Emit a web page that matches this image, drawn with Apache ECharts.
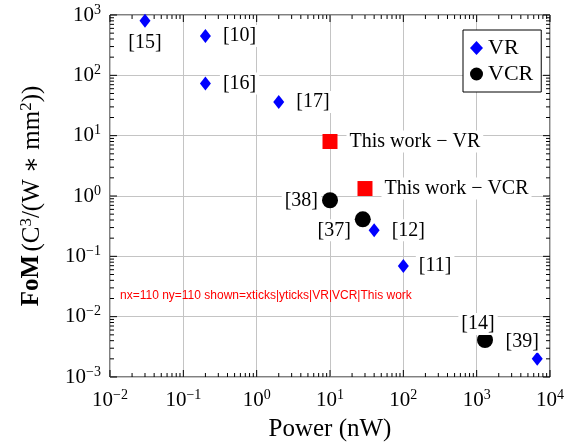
<!DOCTYPE html>
<html>
<head>
<meta charset="utf-8">
<script src="https://cdn.jsdelivr.net/npm/echarts@6/dist/echarts.min.js"></script>
<style>
  html, body { margin: 0; padding: 0; background: #fff; }
  #main { width: 580px; height: 447px; }
</style>
</head>
<body>
<div id="main"></div>
<script>
var vrPower = [0.03, 0.2, 0.2, 2, 40, 100, 6700];
var vrFom = [800, 450, 73, 36, 0.27, 0.069, 0.002];
var vrRefs = ['[15]', '[10]', '[16]', '[17]', '[12]', '[11]', '[39]'];
var vcrPower = [10, 28, 1300];
var vcrFom = [0.85, 0.41, 0.0041];
var vcrRefs = ['[38]', '[37]', '[14]'];
var ourPower = [10, 30];
var ourFom = [8, 1.33];
var ourNames = ['This work \u2212 VR', 'This work \u2212 VCR'];
var xExps = [-2, -1, 0, 1, 2, 3, 4];
var yExps = [-3, -2, -1, 0, 1, 2, 3];
var minorSteps = [2, 3, 4, 5, 6, 7, 8, 9];
var X_MIN = 0.01, X_MAX = 10000, Y_MIN = 0.001, Y_MAX = 1000;
var FONT = '"Liberation Serif", "DejaVu Serif", serif';
var labelPlace = {
  '[15]': { position: 'bottom', distance: 4 },
  '[10]': { position: 'right', distance: 9 },
  '[16]': { position: 'right', distance: 9 },
  '[17]': { position: 'right', distance: 9 },
  '[12]': { position: 'right', distance: 9 },
  '[11]': { position: 'right', distance: 7 },
  '[39]': { position: 'top', distance: -1, offset: [-15, 0] },
  '[38]': { position: 'left', distance: 1 },
  '[37]': { position: 'left', distance: 1, offset: [0, 11] },
  '[14]': { position: 'top', distance: -3, offset: [-7, 0] }
};
function pts(xs, ys, names) {
  return xs.map(function (x, i) {
    var item = { value: [x, ys[i]], name: names[i] };
    if (labelPlace[names[i]]) item.label = labelPlace[names[i]];
    return item;
  });
}
function supLabel(v) {
  var e = Math.round(Math.log10(v));
  return '{b|10}{s|' + (e < 0 ? '\u2212' + (-e) : e) + '}';
}
var tickRich = {
  b: { fontFamily: FONT, fontSize: 21, lineHeight: 24, color: '#000' },
  s: { fontFamily: FONT, fontSize: 14, lineHeight: 18, verticalAlign: 'top', color: '#000' }
};
var xTicks = [], yTicks = [];
xExps.forEach(function (e, i) {
  var d = Math.pow(10, e);
  xTicks.push([d, 1, 0, 1], [d, 1, 1, 1]);
  if (i < xExps.length - 1) minorSteps.forEach(function (m) { xTicks.push([m * d, 1, 0, 0], [m * d, 1, 1, 0]); });
});
yExps.forEach(function (e, i) {
  var d = Math.pow(10, e);
  yTicks.push([1, d, 0, 1], [1, d, 1, 1]);
  if (i < yExps.length - 1) minorSteps.forEach(function (m) { yTicks.push([1, m * d, 0, 0], [1, m * d, 1, 0]); });
});
var dbg = { nx: 0, ny: 0, err: '' };
function renderXTick(params, api) {
  dbg.nx++;
  var v = api.value(0), top = api.value(2), len = api.value(3) ? 7 : 4;
  var p = api.coord([v, top ? Y_MAX : Y_MIN]);
  var dy = top ? len : -len;
  return { type: 'line', shape: { x1: p[0], y1: p[1], x2: p[0], y2: p[1] + dy }, style: { stroke: '#000', lineWidth: 1 } };
}
function renderYTick(params, api) {
  dbg.ny++;
  var v = api.value(1), right = api.value(2), len = api.value(3) ? 7 : 4;
  var p = api.coord([right ? X_MAX : X_MIN, v]);
  var dx = right ? -len : len;
  return { type: 'line', shape: { x1: p[0], y1: p[1], x2: p[0] + dx, y2: p[1] }, style: { stroke: '#000', lineWidth: 1 } };
}
var dataLabel = {
  show: true, formatter: '{b}', fontFamily: FONT, fontSize: 20, color: '#000',
  backgroundColor: '#fff', padding: [1, 3]
};
var chart = echarts.init(document.getElementById('main'));
try {
chart.setOption({
  animation: false,
  grid: { left: 110, right: 30, top: 15, bottom: 67, show: true, borderColor: '#000', borderWidth: 1, backgroundColor: 'transparent' },
  legend: {
    data: [{ name: 'VR', icon: 'diamond' }, { name: 'VCR', icon: 'circle' }],
    orient: 'vertical', left: 463, top: 30,
    itemWidth: 13, itemHeight: 14, itemGap: 4, padding: [7, 8, 7, 7],
    backgroundColor: '#fff', borderColor: '#000', borderWidth: 1, borderRadius: 0,
    textStyle: { fontFamily: FONT, fontSize: 22, lineHeight: 22, color: '#000' }
  },
  xAxis: {
    type: 'log', logBase: 10, min: X_MIN, max: X_MAX, interval: 1,
    name: 'Power (nW)', nameLocation: 'middle', nameGap: 40,
    nameTextStyle: { fontFamily: FONT, fontSize: 25, color: '#000' },
    axisLine: { show: false }, axisTick: { show: false },
    splitLine: { show: true, lineStyle: { color: '#c4c4c4', width: 1 } },
    axisLabel: { formatter: supLabel, rich: tickRich, margin: 11, showMinLabel: true, showMaxLabel: true }
  },
  yAxis: {
    type: 'log', logBase: 10, min: Y_MIN, max: Y_MAX, interval: 1,
    name: '{bf|FoM} {r|(C}{s|3}{r|/(W \u2217 mm}{s|2}{r|))}',
    nameLocation: 'middle', nameGap: 64, nameRotate: 90,
    nameTextStyle: { rich: {
      bf: { fontFamily: FONT, fontSize: 25, lineHeight: 28, fontWeight: 'bold', color: '#000' },
      r: { fontFamily: FONT, fontSize: 25, lineHeight: 28, color: '#000' },
      s: { fontFamily: FONT, fontSize: 17, lineHeight: 20, verticalAlign: 'top', color: '#000' }
    } },
    axisLine: { show: false }, axisTick: { show: false },
    splitLine: { show: true, lineStyle: { color: '#c4c4c4', width: 1 } },
    axisLabel: { formatter: supLabel, rich: tickRich, margin: 9, showMinLabel: true, showMaxLabel: true }
  },
  series: [
    { name: 'xticks', type: 'custom', data: xTicks, renderItem: renderXTick },
    { name: 'yticks', type: 'custom', data: yTicks, renderItem: renderYTick },
    { name: 'VR', type: 'scatter', symbol: 'diamond', symbolSize: [11, 14], itemStyle: { color: '#0000ff', opacity: 1 }, label: dataLabel, data: pts(vrPower, vrFom, vrRefs) },
    { name: 'VCR', type: 'scatter', symbol: 'circle', symbolSize: 16, itemStyle: { color: '#000', opacity: 1 }, label: dataLabel, data: pts(vcrPower, vcrFom, vcrRefs) },
    { name: 'This work', type: 'scatter', symbol: 'rect', symbolSize: 15, itemStyle: { color: '#ff0000', opacity: 1 },
      label: Object.assign({}, dataLabel, { position: 'right', distance: 9 }), data: pts(ourPower, ourFom, ourNames) }
  ]
});
} catch (e) { dbg.err += ' top:' + e.message; }
var names = '';
try { names = chart.getModel().getSeries().map(function (s) { return s.name; }).join('|'); } catch (e) { names = 'ERR ' + e.message; }
chart.setOption({ graphic: [{ type: 'text', left: 120, top: 290, z: 100, style: { text: 'nx=' + dbg.nx + ' ny=' + dbg.ny + dbg.err + ' shown=' + names, fontSize: 12, width: 300, overflow: 'break', fill: '#f00' } }] });
</script>
</body>
</html>
